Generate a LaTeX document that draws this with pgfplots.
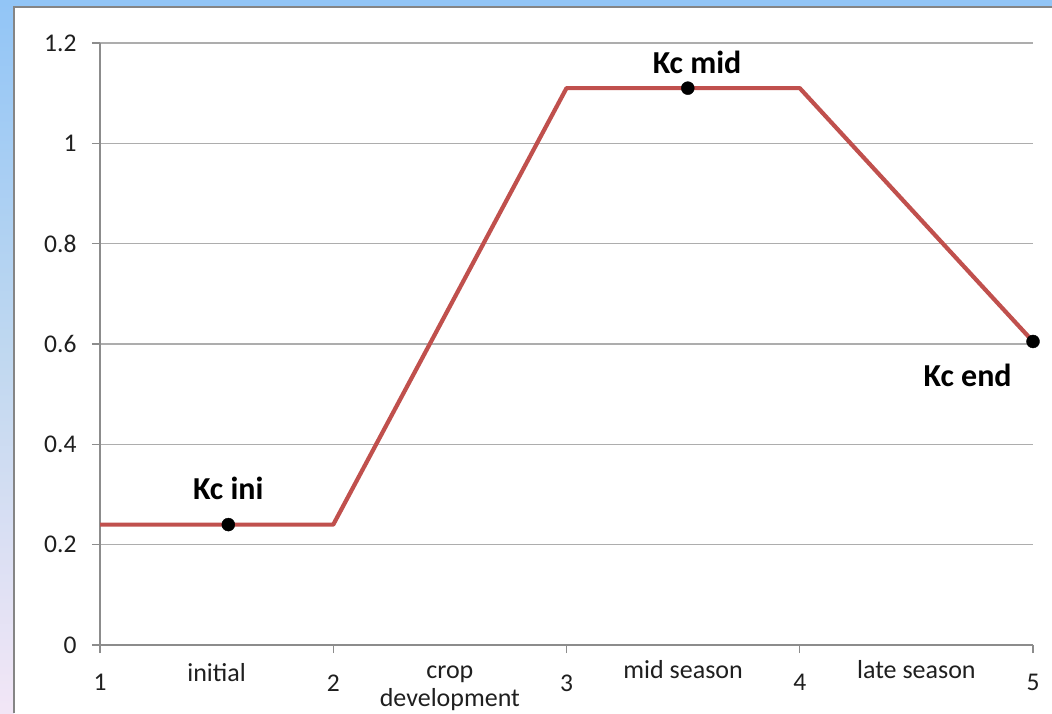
\documentclass[border=0pt]{standalone}
\usepackage{pgfplots}
\pgfplotsset{compat=1.18}
\usepackage{fontspec}
\setmainfont{Carlito}

\definecolor{kcred}{HTML}{C0504D}
\definecolor{gridgray}{HTML}{ADADAD}
\definecolor{axisgray}{HTML}{8C8C8C}
\definecolor{framegray}{HTML}{858585}
\definecolor{bandtop}{HTML}{92C5F6}
\definecolor{bandmid}{HTML}{C0D8F0}
\definecolor{bandbot}{HTML}{F2E6F6}
\definecolor{txt}{HTML}{1F1F1F}

\begin{document}
\begin{tikzpicture}[x=1pt,y=1pt]
  % page frame: white sheet with a tinted band on the left and top
  \path[use as bounding box] (0,0) rectangle (1052,713);
  \fill[white] (0,0) rectangle (1052,713);
  \shade[top color=bandtop, bottom color=bandbot, middle color=bandmid] (0,0) rectangle (14,713);
  \fill[bandtop] (0,706) rectangle (1052,713);
  \draw[framegray, line width=2pt] (14,0) -- (14,706) -- (1052,706);

  \begin{axis}[
      at={(100pt,68pt)}, anchor=south west,
      scale only axis, width=933pt, height=602pt,
      xmin=1, xmax=5, ymin=0, ymax=1.2,
      axis x line=bottom, axis y line=left,
      axis line style={-, axisgray, line width=1.2pt},
      xtick={1,2,3,4,5},
      ytick={0,0.2,0.4,0.6,0.8,1,1.2},
      ymajorgrids, major grid style={gridgray, line width=1.2pt},
      tick align=outside, major tick length=8pt,
      tick style={axisgray, line width=1.2pt},
      /pgf/number format/assume math mode=true,
      tick label style={font=\fontsize{25.5}{30}\selectfont, text=txt},
      yticklabel style={xshift=-12pt},
      xticklabel style={yshift=-18pt},
      clip=false,
    ]
    % crop coefficient curve
    \addplot[kcred, line width=4.2pt, line join=round] coordinates {
      (1,0.24) (2,0.24) (3,1.11) (4,1.11) (5,0.605)
    };
    % Kc ini, Kc mid, Kc end
    \addplot[only marks, mark=*, mark size=6.5pt, black] coordinates {
      (1.55,0.24) (3.52,1.11) (5,0.605)
    };

    \begin{scope}[every node/.style={font=\fontsize{32}{38}\selectfont\bfseries, text=black, inner sep=0pt}]
      \node[anchor=base] at (axis cs:1.55,0.24) [yshift=25pt] {Kc ini};
      \node[anchor=base] at (axis cs:3.56,1.11) [yshift=15pt] {Kc mid};
      \node[anchor=base] at (axis cs:4.72,0.605) [yshift=-45pt] {Kc end};
    \end{scope}

    \begin{scope}[every node/.style={font=\fontsize{26}{31}\selectfont, text=txt, inner sep=0pt, anchor=base}]
      \node at (axis cs:1.5,0) [yshift=-36pt] {initial};
      \node at (axis cs:2.5,0) [yshift=-33pt] {crop};
      \node at (axis cs:2.5,0) [yshift=-61pt] {development};
      \node at (axis cs:3.5,0) [yshift=-33pt] {mid season};
      \node at (axis cs:4.5,0) [yshift=-33pt] {late season};
    \end{scope}
  \end{axis}
\end{tikzpicture}
\end{document}
